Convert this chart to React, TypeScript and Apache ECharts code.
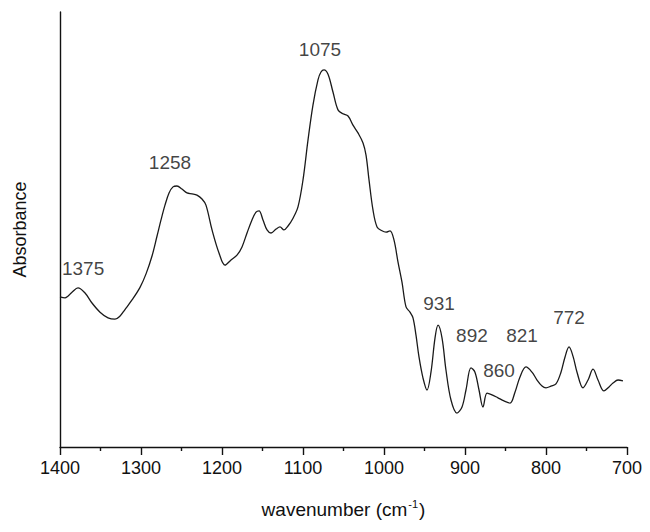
import React, { useEffect, useRef } from "react";
import * as echarts from "echarts";

// Spectrum: wavenumber (cm-1) and absorbance (arbitrary units)
const wavenumbers = [
  1400, 1393.8, 1385.2, 1377.8, 1369.1, 1360.5, 1350.6, 1340.7, 1332.1, 1325.9,
  1319.8, 1311.1, 1301.2, 1293.8, 1286.4, 1280.2, 1275.3, 1270.4, 1265.4, 1260.5,
  1255.6, 1249.4, 1243.2, 1237.0, 1230.9, 1224.7, 1219.8, 1212.3, 1203.7, 1196.3,
  1188.9, 1181.5, 1175.3, 1169.1, 1163.0, 1158.0, 1154.3, 1149.4, 1144.4, 1139.5,
  1133.3, 1128.4, 1123.5, 1118.5, 1112.3, 1106.2, 1100.0, 1093.8, 1087.7, 1081.5,
  1077.8, 1074.1, 1069.1, 1063.0, 1056.8, 1050.6, 1044.4, 1038.3, 1032.1, 1025.9,
  1022.2, 1018.5, 1013.6, 1008.6, 1002.5, 997.5, 992.6, 987.7, 982.7, 977.8,
  972.8, 967.9, 964.2, 960.5, 956.8, 951.9, 946.9, 942.0, 937.0, 933.3,
  928.4, 923.5, 917.3, 909.9, 903.7, 898.8, 892.6, 887.7, 882.7, 877.8,
  872.8, 866.7, 859.3, 851.9, 844.4, 838.3, 832.1, 824.7, 817.3, 811.1,
  804.9, 800.0, 793.8, 787.7, 781.5, 776.5, 771.6, 766.7, 761.7, 754.3,
  748.1, 741.9, 735.8, 728.4, 722.2, 717.3, 711.1, 705.0,
];
const absorbance = [
  0.345, 0.343, 0.356, 0.366, 0.354, 0.331, 0.310, 0.297, 0.294, 0.301,
  0.316, 0.338, 0.367, 0.398, 0.439, 0.485, 0.522, 0.556, 0.584, 0.598,
  0.600, 0.593, 0.584, 0.582, 0.579, 0.570, 0.556, 0.499, 0.446, 0.418,
  0.430, 0.441, 0.460, 0.492, 0.522, 0.540, 0.543, 0.522, 0.499, 0.492,
  0.501, 0.506, 0.499, 0.508, 0.526, 0.552, 0.614, 0.706, 0.786, 0.844,
  0.862, 0.867, 0.857, 0.816, 0.775, 0.766, 0.761, 0.740, 0.722, 0.699,
  0.671, 0.614, 0.545, 0.506, 0.497, 0.494, 0.497, 0.476, 0.425, 0.379,
  0.322, 0.310, 0.297, 0.257, 0.207, 0.159, 0.131, 0.172, 0.251, 0.280,
  0.251, 0.177, 0.108, 0.078, 0.092, 0.131, 0.182, 0.172, 0.131, 0.092,
  0.124, 0.120, 0.113, 0.106, 0.101, 0.126, 0.161, 0.184, 0.172, 0.154,
  0.140, 0.136, 0.140, 0.145, 0.172, 0.207, 0.230, 0.209, 0.172, 0.136,
  0.154, 0.179, 0.154, 0.129, 0.138, 0.147, 0.154, 0.152,
];

// Peak annotations: text, and where the text sits (wavenumber, absorbance)
const peakLabels = ["1375", "1258", "1075", "931", "892", "860", "821", "772"];
const peakLabelX = [1371.5, 1264.2, 1079.0, 932.1, 891.4, 858.0, 829.6, 771.6];
const peakLabelY = [0.411, 0.655, 0.913, 0.331, 0.257, 0.177, 0.257, 0.297];

const xMin = 700;
const xMax = 1400;
const xStep = 100;

export default function App() {
  const ref = useRef<HTMLDivElement>(null);

  useEffect(() => {
    if (!ref.current) return;
    const chart = echarts.init(ref.current, null, { renderer: "svg" });
    const font = "Liberation Sans, Arial, sans-serif";
    chart.setOption({
      animation: false,
      backgroundColor: "#ffffff",
      grid: { left: 60, right: 23, top: 12, bottom: 85, containLabel: false },
      xAxis: {
        type: "value",
        inverse: true,
        min: xMin,
        max: xMax,
        interval: xStep,
        name: "wavenumber (cm{sup|-1})",
        nameLocation: "middle",
        nameGap: 51,
        nameTextStyle: {
          fontFamily: font,
          fontSize: 19,
          color: "#111",
          rich: {
            sup: { fontFamily: font, fontSize: 11, color: "#111", verticalAlign: "top", padding: [0, 1, 11, 1] },
          },
        },
        axisLine: { show: true, lineStyle: { color: "#111", width: 1.4 } },
        axisTick: { show: true, inside: false, length: 8, lineStyle: { color: "#111", width: 1.4 } },
        minorTick: { show: true, splitNumber: 2, length: 4, lineStyle: { color: "#111", width: 1.4 } },
        splitLine: { show: false },
        axisLabel: {
          fontFamily: font,
          fontSize: 18,
          color: "#111",
          margin: 12,
          showMinLabel: true,
          showMaxLabel: true,
          formatter: (v: number) => String(v),
        },
      },
      yAxis: {
        type: "value",
        min: 0,
        max: 1,
        name: "Absorbance",
        nameLocation: "middle",
        nameGap: 31,
        nameTextStyle: { fontFamily: font, fontSize: 18, color: "#111" },
        axisLine: { show: true, lineStyle: { color: "#111", width: 1.4 } },
        axisTick: { show: false },
        axisLabel: { show: false },
        splitLine: { show: false },
      },
      series: [
        {
          type: "line",
          data: wavenumbers.map((w, i) => [w, absorbance[i]]),
          showSymbol: false,
          smooth: 0.35,
          lineStyle: { color: "#1a1a1a", width: 1.3 },
          silent: true,
        },
        {
          type: "scatter",
          symbolSize: 0,
          silent: true,
          itemStyle: { color: "#111" },
          data: peakLabels.map((t, i) => ({ name: t, value: [peakLabelX[i], peakLabelY[i]] })),
          label: {
            show: true,
            position: "inside",
            formatter: (p: any) => p.name,
            fontFamily: font,
            fontSize: 19,
            color: "#111",
            textBorderWidth: 0,
            textBorderColor: "transparent",
          },
        },
      ],
    });
    return () => chart.dispose();
  }, []);

  return <div ref={ref} style={{ width: 650, height: 532, margin: -8 }} />;
}
